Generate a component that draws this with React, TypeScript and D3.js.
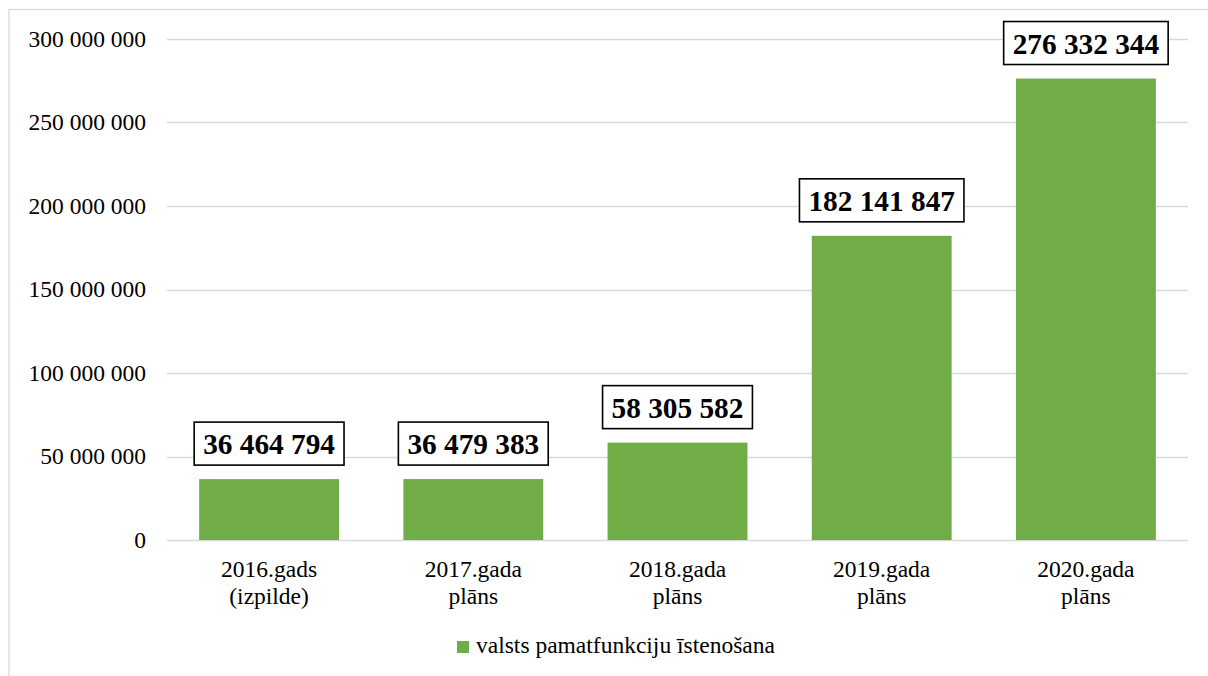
import React from "react";
import * as d3 from "d3";

const categories: string[][] = [
  ["2016.gads", "(izpilde)"],
  ["2017.gada", "plāns"],
  ["2018.gada", "plāns"],
  ["2019.gada", "plāns"],
  ["2020.gada", "plāns"],
];
const values: number[] = [36464794, 36479383, 58305582, 182141847, 276332344];
const yTicks: number[] = [0, 50000000, 100000000, 150000000, 200000000, 250000000, 300000000];
const seriesName = "valsts pamatfunkciju īstenošana";

const W = 1208;
const H = 676;
const FONT = '"Times New Roman", "Liberation Serif", Times, serif';
const GREEN = "#70AD47";
const GRID = "#d9d9d9";

const fmt = (v: number) => d3.format(",")(v).replace(/,/g, " ");

export default function App() {
  const keys = categories.map((c) => c.join(" "));
  const x = d3
    .scaleBand<string>()
    .domain(keys)
    .range([167, 1188])
    .paddingInner(0.315)
    .paddingOuter(0.1575);
  const y = d3.scaleLinear().domain([0, 300000000]).range([540, 39]);

  const labelSize = 29.3;
  const textSize = 23.5;
  const ts: React.CSSProperties = { fontFamily: FONT };

  return (
    <svg
      width={W}
      height={H}
      style={{ position: "absolute", left: 0, top: 0, background: "#fff", fontFamily: FONT }}
    >
      <rect x={9} y={9.5} width={W + 20} height={H + 20} fill="#fff" stroke={GRID} strokeWidth={1.3} />
      {yTicks.map((t) => (
        <g key={t}>
          <line x1={167} x2={1188} y1={Math.round(y(t)) + 0.5} y2={Math.round(y(t)) + 0.5} stroke={GRID} strokeWidth={1.3} />
          <text x={146} y={y(t)} dy="0.34em" textAnchor="end" fontSize={textSize} fill="#000" style={ts}>
            {fmt(t)}
          </text>
        </g>
      ))}
      {values.map((v, i) => {
        const k = keys[i];
        const bx = x(k)!;
        const bw = x.bandwidth();
        const cx = bx + bw / 2;
        const top = y(v);
        const s = fmt(v);
        const digits = s.replace(/ /g, "").length;
        const spaces = s.length - digits;
        const tw = (digits * 0.5 + spaces * 0.25) * labelSize;
        const boxW = tw + 18;
        const boxH = 43;
        const boxBottom = top - 14;
        return (
          <g key={k}>
            <rect x={bx} y={top} width={bw} height={y(0) - top} fill={GREEN} />
            <rect
              x={cx - boxW / 2}
              y={boxBottom - boxH}
              width={boxW}
              height={boxH}
              fill="#fff"
              stroke="#000"
              strokeWidth={1.6}
            />
            <text
              x={cx}
              y={boxBottom - boxH / 2}
              dy="0.36em"
              textAnchor="middle"
              fontSize={labelSize}
              fontWeight="bold"
              fill="#000"
              style={ts}
            >
              {s}
            </text>
            {categories[i].map((line, j) => (
              <text key={j} x={cx} y={577 + j * 27} textAnchor="middle" fontSize={textSize} fill="#000" style={ts}>
                {line}
              </text>
            ))}
          </g>
        );
      })}
      <rect x={457} y={641} width={12} height={12} fill={GREEN} />
      <text x={476} y={653} fontSize={textSize} fill="#000" style={ts}>
        {seriesName}
      </text>
    </svg>
  );
}
